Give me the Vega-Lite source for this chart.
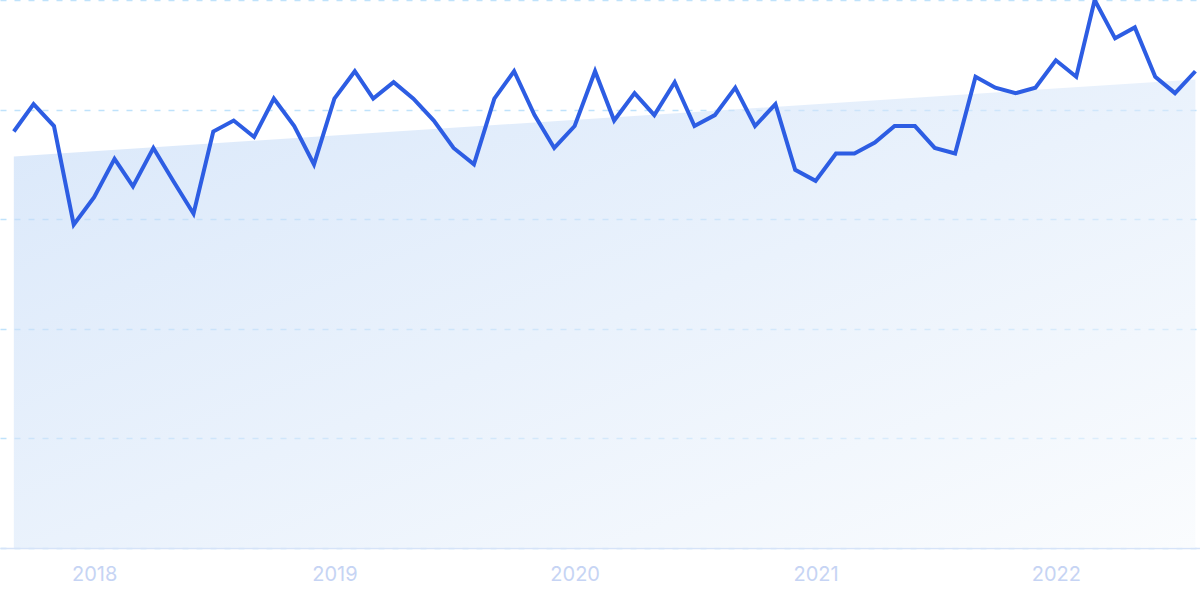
{
  "$schema": "https://vega.github.io/schema/vega-lite/v6.json",
  "width": 1200,
  "height": 548,
  "padding": {"top": 0, "left": 0, "right": 0, "bottom": 52},
  "autosize": "none",
  "background": "white",
  "data": {
    "values": [
      {"date": "2017-09-01", "value": 76},
      {"date": "2017-10-01", "value": 81},
      {"date": "2017-11-01", "value": 77},
      {"date": "2017-12-01", "value": 59},
      {"date": "2018-01-01", "value": 64},
      {"date": "2018-02-01", "value": 71},
      {"date": "2018-03-01", "value": 66},
      {"date": "2018-04-01", "value": 73},
      {"date": "2018-05-01", "value": 67},
      {"date": "2018-06-01", "value": 61},
      {"date": "2018-07-01", "value": 76},
      {"date": "2018-08-01", "value": 78},
      {"date": "2018-09-01", "value": 75},
      {"date": "2018-10-01", "value": 82},
      {"date": "2018-11-01", "value": 77},
      {"date": "2018-12-01", "value": 70},
      {"date": "2019-01-01", "value": 82},
      {"date": "2019-02-01", "value": 87},
      {"date": "2019-03-01", "value": 82},
      {"date": "2019-04-01", "value": 85},
      {"date": "2019-05-01", "value": 82},
      {"date": "2019-06-01", "value": 78},
      {"date": "2019-07-01", "value": 73},
      {"date": "2019-08-01", "value": 70},
      {"date": "2019-09-01", "value": 82},
      {"date": "2019-10-01", "value": 87},
      {"date": "2019-11-01", "value": 79},
      {"date": "2019-12-01", "value": 73},
      {"date": "2020-01-01", "value": 77},
      {"date": "2020-02-01", "value": 87},
      {"date": "2020-03-01", "value": 78},
      {"date": "2020-04-01", "value": 83},
      {"date": "2020-05-01", "value": 79},
      {"date": "2020-06-01", "value": 85},
      {"date": "2020-07-01", "value": 77},
      {"date": "2020-08-01", "value": 79},
      {"date": "2020-09-01", "value": 84},
      {"date": "2020-10-01", "value": 77},
      {"date": "2020-11-01", "value": 81},
      {"date": "2020-12-01", "value": 69},
      {"date": "2021-01-01", "value": 67},
      {"date": "2021-02-01", "value": 72},
      {"date": "2021-03-01", "value": 72},
      {"date": "2021-04-01", "value": 74},
      {"date": "2021-05-01", "value": 77},
      {"date": "2021-06-01", "value": 77},
      {"date": "2021-07-01", "value": 73},
      {"date": "2021-08-01", "value": 72},
      {"date": "2021-09-01", "value": 86},
      {"date": "2021-10-01", "value": 84},
      {"date": "2021-11-01", "value": 83},
      {"date": "2021-12-01", "value": 84},
      {"date": "2022-01-01", "value": 89},
      {"date": "2022-02-01", "value": 86},
      {"date": "2022-03-01", "value": 100},
      {"date": "2022-04-01", "value": 93},
      {"date": "2022-05-01", "value": 95},
      {"date": "2022-06-01", "value": 86},
      {"date": "2022-07-01", "value": 83},
      {"date": "2022-08-01", "value": 87}
    ],
    "format": {"parse": {"date": "date"}}
  },
  "encoding": {
    "x": {
      "field": "date",
      "type": "temporal",
      "title": null,
      "scale": {
        "type": "utc",
        "domain": [
          {"year": 2017, "month": 8, "date": 11, "utc": true},
          {"year": 2022, "month": 8, "date": 8, "utc": true}
        ]
      },
      "axis": {
        "format": "%Y",
        "tickCount": {"interval": "year", "step": 1},
        "grid": false,
        "ticks": false,
        "domainColor": "#d6e3f8",
        "domainWidth": 1.5,
        "labelColor": "#c6d4f4",
        "labelFont": "Inter",
        "labelFontSize": 20,
        "labelPadding": 16
      }
    },
    "y": {
      "field": "value",
      "type": "quantitative",
      "title": null,
      "scale": {"domain": [0, 100]},
      "axis": {
        "values": [0, 20, 40, 60, 80, 100],
        "labels": false,
        "ticks": false,
        "domain": false,
        "gridColor": "#bfe2fb",
        "gridDash": [6, 8],
        "gridWidth": 1.5
      }
    }
  },
  "layer": [
    {
      "transform": [{"regression": "value", "on": "date"}],
      "mark": {
        "type": "area",
        "opacity": 0.6,
        "color": {
          "gradient": "linear",
          "x1": 0, "y1": 0, "x2": 1, "y2": 1,
          "stops": [
            {"offset": 0, "color": "#c0d8f7"},
            {"offset": 1, "color": "#f7fafd"}
          ]
        }
      }
    },
    {
      "mark": {"type": "line", "color": "#2d5de3", "strokeWidth": 4}
    }
  ],
  "config": {
    "view": {"stroke": null}
  }
}
